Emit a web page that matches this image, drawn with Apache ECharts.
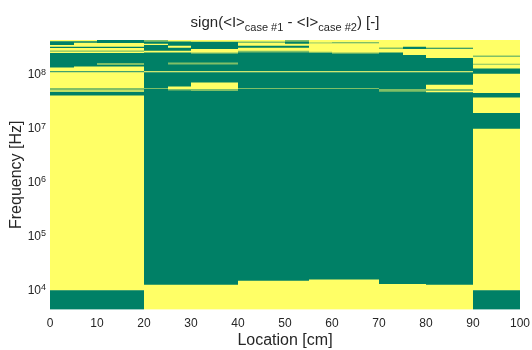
<!DOCTYPE html>
<html><head><meta charset="utf-8">
<script src="https://cdn.jsdelivr.net/npm/echarts@6/dist/echarts.min.js"></script>
<style>html,body{margin:0;padding:0;background:#fff}#c{width:532px;height:350px}</style>
</head><body><div id="c"></div>
<script>
// Column edges along location [cm]
const locationEdges = [0,5,10,15,20,25,30,35,40,45,50,55,60,65,70,75,80,85,90,95,100];
const freqMin = 5e3, freqMax = 5e8;
const xTicks = [0,10,20,30,40,50,60,70,80,90,100];
const yTicks = [1e4,1e5,1e6,1e7,1e8];

// Each column: [upper frequency of band, sign]; band runs down to next entry (last down to freqMin)
const col00 = [[5.0e8,1],[4.69e8,-1],[3.99e8,1],[3.71e8,-1],[3.51e8,1],[3.16e8,0],[2.99e8,1],[2.83e8,-1],[1.53e8,1],[1.30e8,-1],[1.25e8,1],[6.35e7,0],[5.74e7,1],[5.42e7,-1],[4.63e7,1],[1.12e4,-1]];
const col05 = [[5.0e8,1],[4.69e8,-1],[4.40e8,1],[3.71e8,-1],[3.51e8,1],[3.16e8,0],[2.99e8,1],[2.83e8,-1],[1.60e8,1],[1.30e8,-1],[1.25e8,1],[6.35e7,0],[5.74e7,1],[5.42e7,-1],[4.63e7,1],[1.12e4,-1]];
const col10 = [[5.0e8,-1],[4.35e8,1],[3.71e8,-1],[3.51e8,1],[3.16e8,0],[2.99e8,1],[2.83e8,-1],[1.85e8,0],[1.70e8,-1],[1.60e8,1],[1.30e8,-1],[1.25e8,1],[6.35e7,0],[5.74e7,1],[5.42e7,-1],[4.63e7,1],[1.12e4,-1]];
const col15 = [[5.0e8,-1],[4.35e8,1],[3.71e8,-1],[3.51e8,1],[3.16e8,0],[2.99e8,1],[2.83e8,-1],[1.85e8,0],[1.70e8,-1],[1.60e8,1],[1.30e8,-1],[1.25e8,1],[6.35e7,0],[5.74e7,1],[5.42e7,-1],[4.63e7,1],[1.12e4,-1]];
const col20 = [[5.0e8,0],[4.59e8,-1],[4.22e8,1],[3.99e8,-1],[3.12e8,1],[2.90e8,-1],[1.30e8,1],[1.25e8,-1],[6.35e7,0],[6.08e7,-1],[1.43e4,1]];
const col25 = [[5.0e8,1],[4.65e8,-1],[3.87e8,1],[3.55e8,-1],[3.12e8,1],[2.90e8,-1],[1.90e8,0],[1.74e8,-1],[1.30e8,1],[1.25e8,-1],[6.81e7,1],[6.08e7,0],[5.74e7,-1],[1.43e4,1]];
const col30 = [[5.0e8,1],[4.59e8,-1],[3.36e8,1],[2.90e8,0],[2.75e8,-1],[1.90e8,0],[1.74e8,-1],[1.30e8,1],[1.25e8,-1],[8.07e7,1],[6.08e7,0],[5.60e7,-1],[1.43e4,1]];
const col35 = [[5.0e8,1],[4.59e8,-1],[3.36e8,1],[2.90e8,0],[2.75e8,-1],[1.90e8,0],[1.74e8,-1],[1.30e8,1],[1.25e8,-1],[8.07e7,1],[6.08e7,0],[5.60e7,-1],[1.43e4,1]];
const col40 = [[5.0e8,1],[4.65e8,0],[4.35e8,1],[3.87e8,-1],[3.55e8,1],[3.12e8,0],[2.90e8,-1],[1.30e8,1],[1.25e8,-1],[6.35e7,0],[6.08e7,-1],[1.69e4,1]];
const col45 = [[5.0e8,1],[4.65e8,0],[4.35e8,1],[3.87e8,-1],[3.55e8,1],[3.12e8,0],[2.90e8,-1],[1.30e8,1],[1.25e8,-1],[6.35e7,0],[6.08e7,-1],[1.69e4,1]];
const col50 = [[5.0e8,0],[4.59e8,-1],[4.22e8,1],[3.87e8,-1],[3.55e8,1],[3.12e8,0],[2.90e8,-1],[1.30e8,1],[1.25e8,-1],[6.35e7,0],[6.08e7,-1],[1.69e4,1]];
const col55 = [[5.0e8,1],[4.40e8,-1],[4.30e8,1],[3.00e8,0],[2.83e8,-1],[1.30e8,1],[1.25e8,-1],[6.35e7,0],[6.08e7,-1],[1.79e4,1]];
const col60 = [[5.0e8,1],[4.45e8,-1],[4.30e8,1],[2.90e8,0],[2.75e8,-1],[1.30e8,1],[1.25e8,-1],[6.35e7,0],[6.08e7,-1],[1.79e4,1]];
const col65 = [[5.0e8,1],[4.45e8,-1],[4.30e8,1],[2.90e8,0],[2.75e8,-1],[1.30e8,1],[1.25e8,-1],[6.35e7,0],[6.08e7,-1],[1.79e4,1]];
const col70 = [[5.0e8,1],[3.60e8,0],[3.36e8,1],[2.90e8,-1],[1.30e8,1],[1.25e8,-1],[6.08e7,0],[5.42e7,-1],[1.47e4,1]];
const col75 = [[5.0e8,1],[3.71e8,-1],[3.36e8,1],[2.60e8,-1],[1.30e8,1],[1.25e8,-1],[6.08e7,0],[5.42e7,-1],[1.47e4,1]];
const col80 = [[5.0e8,1],[3.55e8,-1],[3.40e8,1],[2.29e8,-1],[1.30e8,1],[1.25e8,-1],[7.31e7,1],[6.08e7,0],[5.60e7,1],[5.30e7,-1],[1.43e4,1]];
const col85 = [[5.0e8,1],[3.55e8,-1],[3.40e8,1],[2.29e8,-1],[1.30e8,1],[1.25e8,-1],[7.31e7,1],[6.08e7,0],[5.60e7,1],[5.30e7,-1],[1.43e4,1]];
const col90 = [[5.0e8,1],[2.52e8,-1],[2.45e8,1],[1.79e8,0],[1.72e8,1],[1.47e8,-1],[1.17e8,1],[5.13e7,-1],[4.25e7,1],[2.18e7,-1],[1.12e7,1],[1.12e4,-1]];
const col95 = [[5.0e8,1],[2.52e8,-1],[2.45e8,1],[1.79e8,0],[1.72e8,1],[1.47e8,-1],[1.17e8,1],[5.13e7,-1],[4.25e7,1],[2.18e7,-1],[1.12e7,1],[1.12e4,-1]];
const columns = [col00,col05,col10,col15,col20,col25,col30,col35,col40,col45,col50,col55,col60,col65,col70,col75,col80,col85,col90,col95];

const signColor = {'1':'#FFFF66','0':'#80BF66','-1':'#008066'};

const seriesData = [];
columns.forEach((segs, i) => {
  for (let k = 0; k < segs.length; k++) {
    const top = segs[k][0];
    const bottom = k + 1 < segs.length ? segs[k + 1][0] : freqMin;
    seriesData.push([locationEdges[i], locationEdges[i + 1], bottom, top, segs[k][1]]);
  }
});

const FONT = '"Liberation Sans", Arial, sans-serif';
const chart = echarts.init(document.getElementById('c'), null, {renderer: 'canvas'});
chart.setOption({
  animation: false,
  backgroundColor: '#fff',
  grid: {left: 50, right: 12, top: 40, bottom: 40.5, containLabel: false, outerBoundsMode: 'none'},
  graphic: [{
    type: 'text', x: 285, y: 24,
    style: {
      text: '{a|sign(<I>}{s|case #1}{a| - <I>}{s|case #2}{a|) [-]}',
      align: 'center', verticalAlign: 'middle',
      rich: {
        a: {fontSize: 15, fontFamily: FONT, fill: '#262626', lineHeight: 18, verticalAlign: 'top'},
        s: {fontSize: 11, fontFamily: FONT, fill: '#262626', lineHeight: 12, padding: [9, 0, 0, 0], verticalAlign: 'bottom'}
      }
    }
  }],
  xAxis: {
    type: 'value', min: 0, max: 100, interval: 10,
    name: 'Location [cm]', nameLocation: 'middle', nameGap: 23, nameMoveOverlap: false,
    nameTextStyle: {fontSize: 16, color: '#262626', fontFamily: FONT},
    axisLine: {show: false}, axisTick: {show: false}, splitLine: {show: false},
    axisLabel: {fontSize: 12, color: '#262626', fontFamily: FONT, margin: 8,
      formatter: v => xTicks.includes(v) ? String(v) : ''}
  },
  yAxis: {
    type: 'log', logBase: 10, min: freqMin, max: freqMax,
    name: 'Frequency [Hz]', nameLocation: 'middle', nameGap: 25, nameRotate: 90, nameMoveOverlap: false,
    nameTextStyle: {fontSize: 16, color: '#262626', fontFamily: FONT},
    axisLine: {show: false}, axisTick: {show: false}, splitLine: {show: false},
    axisLabel: {
      margin: 4, padding: [0, 0, 7, 0],
      formatter: v => {
        const hit = yTicks.find(t => Math.abs(Math.log10(t) - Math.log10(v)) < 1e-6);
        if (!hit) return '';
        return '{b|10}{s|' + Math.round(Math.log10(hit)) + '}';
      },
      rich: {
        b: {fontSize: 12, fontFamily: FONT, color: '#262626', lineHeight: 13, padding: [3, 0, 0, 0], verticalAlign: 'bottom'},
        s: {fontSize: 9, fontFamily: FONT, color: '#262626', lineHeight: 9, verticalAlign: 'top'}
      }
    }
  },
  series: [{
    type: 'custom',
    clip: true,
    encode: {x: [0, 1], y: [2, 3]},
    data: seriesData,
    renderItem: (params, api) => {
      const p1 = api.coord([api.value(0), api.value(3)]);
      const p2 = api.coord([api.value(1), api.value(2)]);
      const x0 = Math.round(p1[0]), x1 = Math.round(p2[0]);
      return {
        type: 'rect',
        shape: {x: x0, y: p1[1] - 0.25, width: x1 - x0, height: p2[1] - p1[1] + 0.5},
        style: {fill: signColor[String(api.value(4))]}
      };
    }
  }]
});
</script></body></html>
